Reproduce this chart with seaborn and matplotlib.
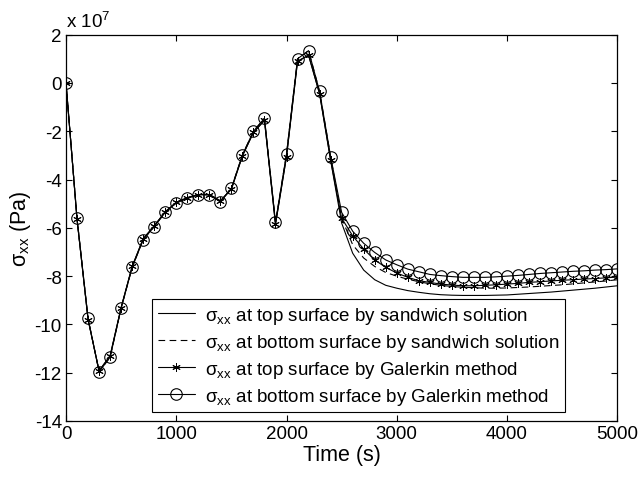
import matplotlib
matplotlib.use("Agg")
import matplotlib.pyplot as plt
import seaborn as sns
import pandas as pd

# ---- data (stress in units of 1e7 Pa) ----
time_s = list(range(0, 5001, 100))

galerkin_bottom = [0.0, -5.61, -9.75, -11.96, -11.36, -9.33, -7.64, -6.49, -5.95, -5.36,
                   -4.97, -4.78, -4.63, -4.63, -4.92, -4.36, -2.98, -2.00, -1.46, -5.77,
                   -2.94, 1.00, 1.34, -0.35, -3.05, -5.36, -6.14, -6.64, -7.02, -7.33,
                   -7.53, -7.71, -7.82, -7.93, -7.98, -8.02, -8.05, -8.05, -8.05, -8.03,
                   -8.00, -7.97, -7.93, -7.89, -7.86, -7.83, -7.80, -7.78, -7.75, -7.73,
                   -7.70]

galerkin_top = [0.0, -5.65, -9.80, -11.92, -11.30, -9.30, -7.60, -6.45, -5.92, -5.33,
                -4.95, -4.75, -4.62, -4.62, -4.88, -4.40, -3.02, -2.05, -1.55, -5.85,
                -3.05, 0.90, 1.15, -0.45, -3.20, -5.60, -6.33, -6.88, -7.33, -7.64,
                -7.87, -8.05, -8.19, -8.26, -8.33, -8.37, -8.40, -8.40, -8.38, -8.36,
                -8.33, -8.30, -8.26, -8.23, -8.20, -8.17, -8.15, -8.12, -8.10, -8.07,
                -8.04]

sandwich_top = [0.0, -5.65, -9.80, -11.92, -11.30, -9.30, -7.60, -6.45, -5.92, -5.33,
                -4.95, -4.75, -4.62, -4.62, -4.88, -4.40, -3.02, -2.05, -1.55, -5.85,
                -3.05, 0.90, 1.15, -0.45, -3.20, -5.80, -7.05, -7.75, -8.15, -8.38,
                -8.50, -8.60, -8.67, -8.73, -8.77, -8.79, -8.80, -8.80, -8.80, -8.79,
                -8.78, -8.75, -8.72, -8.69, -8.66, -8.62, -8.58, -8.54, -8.50, -8.45,
                -8.40]

sandwich_bottom = [0.0, -5.61, -9.75, -11.96, -11.36, -9.33, -7.64, -6.49, -5.95, -5.36,
                   -4.97, -4.78, -4.63, -4.63, -4.92, -4.36, -2.98, -2.00, -1.46, -5.77,
                   -2.94, 1.00, 1.34, -0.35, -3.05, -5.60, -6.70, -7.25, -7.60, -7.85,
                   -8.00, -8.13, -8.23, -8.32, -8.38, -8.43, -8.46, -8.48, -8.50, -8.50,
                   -8.49, -8.47, -8.45, -8.42, -8.39, -8.36, -8.32, -8.28, -8.24, -8.20,
                   -8.15]

labels = [r"σ$_{\mathrm{xx}}$ at top surface by sandwich solution",
          r"σ$_{\mathrm{xx}}$ at bottom surface by sandwich solution",
          r"σ$_{\mathrm{xx}}$ at top surface by Galerkin method",
          r"σ$_{\mathrm{xx}}$ at bottom surface by Galerkin method"]

x_ticks = [0, 1000, 2000, 3000, 4000, 5000]
y_ticks = [2, 0, -2, -4, -6, -8, -10, -12, -14]

# ---- style ----
sns.set_style("ticks")
plt.rcParams["font.family"] = ["Liberation Sans", "DejaVu Sans"]
plt.rcParams["mathtext.fontset"] = "custom"
plt.rcParams["mathtext.rm"] = "Liberation Sans"
plt.rcParams["mathtext.it"] = "Liberation Sans:italic"
plt.rcParams["mathtext.bf"] = "Liberation Sans:bold"
plt.rcParams["xtick.direction"] = "in"
plt.rcParams["ytick.direction"] = "in"
plt.rcParams["text.color"] = "black"
plt.rcParams["axes.labelcolor"] = "black"
plt.rcParams["xtick.color"] = "black"
plt.rcParams["ytick.color"] = "black"

fig = plt.figure(figsize=(6.39, 4.81), dpi=100)
ax = fig.add_axes([0.1033, 0.1227, 0.8627, 0.8031])

df = pd.DataFrame({"t": time_s, "st": sandwich_top, "sb": sandwich_bottom,
                   "gt": galerkin_top, "gb": galerkin_bottom})

sns.lineplot(data=df, x="t", y="st", ax=ax, color="black", lw=0.8, label=labels[0])
sns.lineplot(data=df, x="t", y="sb", ax=ax, color="black", lw=0.8, dashes=False,
             linestyle=(0, (6, 4)), label=labels[1])
sns.lineplot(data=df, x="t", y="gt", ax=ax, color="black", lw=0.8, marker=(6, 2, 0),
             markersize=6, markeredgewidth=0.7, markeredgecolor="black", label=labels[2])
sns.lineplot(data=df, x="t", y="gb", ax=ax, color="black", lw=0.8, marker="o",
             markersize=8.3, markerfacecolor="none", markeredgewidth=0.8,
             markeredgecolor="black", label=labels[3])

ax.set_xlim(0, 5000)
ax.set_ylim(-14, 2)
ax.set_xticks(x_ticks)
ax.set_yticks(y_ticks)
ax.set_xticklabels([str(v) for v in x_ticks])
ax.set_yticklabels([str(v) for v in y_ticks])
ax.tick_params(axis="both", which="both", direction="in", top=True, right=True,
               length=4, width=0.8, labelsize=13.5, pad=3, color="black", labelcolor="black")
for s in ax.spines.values():
    s.set_visible(True)
    s.set_color("black")
    s.set_linewidth(0.9)

ax.set_xlabel("Time (s)", fontsize=15.5, labelpad=1)
ax.set_ylabel(r"σ$_{\mathrm{xx}}$ (Pa)", fontsize=15.5, labelpad=1)
ax.text(0.0, 1.01, r"x 10$^{7}$", transform=ax.transAxes, fontsize=13.5,
        ha="left", va="bottom")

leg = ax.legend(loc="lower left", bbox_to_anchor=(0.156, 0.0225), borderaxespad=0,
                fontsize=13.5, frameon=True, fancybox=False, framealpha=1,
                edgecolor="black", handlelength=2.0, handletextpad=0.5,
                labelspacing=0.32, borderpad=0.3)
leg.get_frame().set_linewidth(0.8)

fig.savefig("out.png", dpi=100)
